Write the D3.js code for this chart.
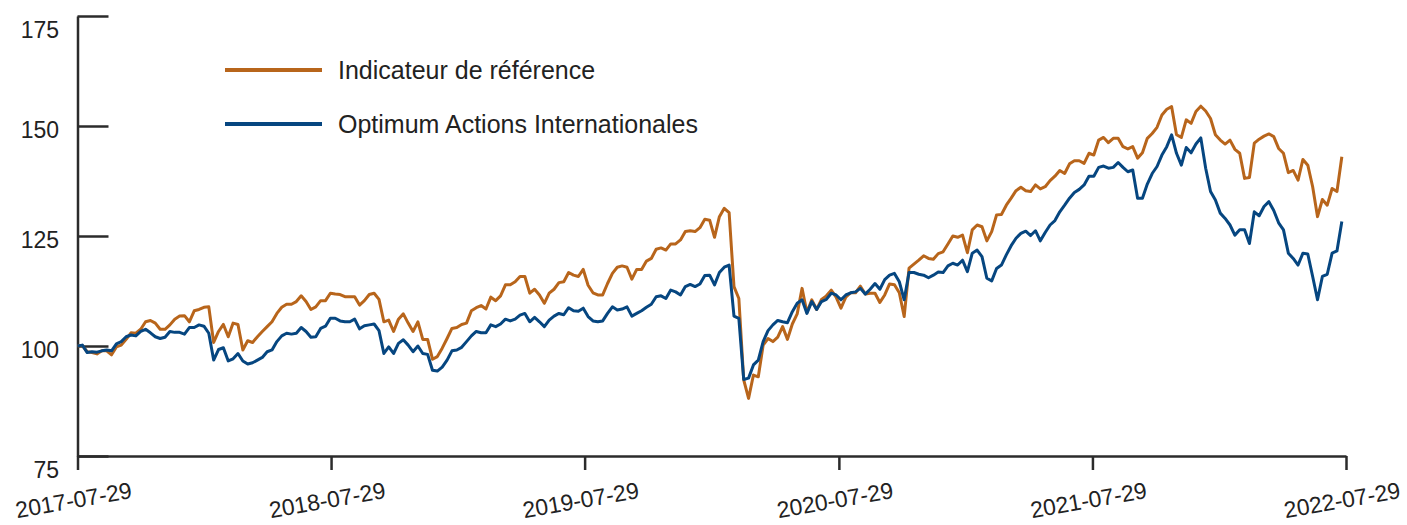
<!DOCTYPE html>
<html>
<head>
<meta charset="utf-8">
<script src="https://cdn.jsdelivr.net/npm/d3@7"></script>
<style>
  body { margin: 0; background: #fff; }
  text { font-family: "Liberation Sans", Arial, sans-serif; fill: #222; }
</style>
</head>
<body>
<div id="canvas"></div>
<script>
// weekly series, first point on 2017-07-29
const startDate = "2017-07-29";
const seriesNames = ["Indicateur de référence", "Optimum Actions Internationales"];
const yTicks = [75, 100, 125, 150, 175];
const xTicks = ["2017-07-29", "2018-07-29", "2019-07-29", "2020-07-29", "2021-07-29", "2022-07-29"];

const refValues = [
  100.0, 100.1, 98.7, 98.5, 98.2, 98.9, 98.9, 98.0, 99.8, 100.2,
  101.5, 103.0, 102.9, 103.8, 105.5, 105.8, 105.2, 103.8, 103.8, 104.8,
  106.1, 106.8, 106.9, 105.5, 108.0, 108.3, 108.8, 108.9, 100.8, 103.3,
  104.9, 102.1, 105.2, 104.9, 99.1, 101.2, 100.8, 102.1, 103.3, 104.4,
  105.5, 107.4, 108.8, 109.5, 109.5, 110.1, 111.4, 110.1, 108.3, 108.9,
  110.3, 110.3, 112.0, 111.8, 111.7, 111.2, 111.2, 111.2, 109.3, 110.3,
  111.7, 112.0, 110.6, 105.5, 105.9, 103.3, 106.1, 107.3, 105.2, 103.3,
  105.5, 101.5, 101.5, 97.0, 97.6, 99.5, 101.7, 104.0, 104.2, 104.9,
  105.2, 108.0, 108.7, 109.2, 108.4, 111.1, 110.3, 111.4, 113.9, 113.9,
  114.6, 115.8, 115.8, 112.0, 112.9, 111.6, 109.7, 112.0, 112.9, 114.4,
  114.6, 116.7, 116.1, 115.8, 117.4, 113.8, 112.1, 111.6, 111.6, 114.2,
  116.5, 117.9, 118.2, 117.9, 115.2, 117.4, 117.4, 119.3, 119.9, 122.0,
  122.3, 121.8, 123.2, 123.2, 124.1, 126.0, 126.2, 126.0, 126.9, 128.8,
  128.6, 124.7, 129.4, 131.3, 130.3, 113.5, 110.8, 92.3, 88.1, 93.4,
  93.0, 100.2, 101.7, 101.0, 102.0, 104.4, 101.5, 105.0, 107.3, 113.1,
  107.6, 110.5, 108.3, 110.6, 111.4, 112.7, 111.1, 108.6, 111.1, 112.1,
  112.1, 113.6, 111.8, 112.0, 112.0, 109.9, 111.6, 114.1, 113.9, 112.1,
  106.7, 117.7, 118.6, 119.5, 120.5, 119.9, 119.7, 121.0, 121.4, 123.2,
  125.0, 124.7, 125.2, 121.2, 126.4, 127.5, 127.1, 123.9, 126.0, 129.8,
  129.9, 132.0, 133.6, 135.3, 136.1, 135.3, 135.1, 136.6, 135.7, 136.2,
  137.6, 138.6, 139.9, 139.2, 141.4, 142.1, 142.1, 141.5, 143.8, 143.4,
  146.8, 147.4, 146.2, 147.2, 147.2, 145.3, 144.8, 145.3, 142.7, 143.9,
  147.2, 148.3, 149.7, 152.5, 153.8, 154.4, 148.0, 147.4, 151.4, 150.6,
  153.3, 154.5, 153.4, 151.7, 148.0, 146.8, 145.9, 146.8, 144.7, 143.8,
  138.1, 138.3, 146.1, 147.0, 147.7, 148.2, 147.6, 144.9, 143.8, 139.4,
  139.9, 137.7, 142.4, 141.1, 136.2, 129.4, 133.3, 132.0, 135.8, 135.1,
  143.0
];

const fundValues = [
  100.0, 100.2, 98.5, 98.7, 98.6, 98.9, 99.1, 98.9, 100.5, 101.0,
  102.1, 102.5, 102.3, 103.3, 103.8, 103.0, 102.1, 101.7, 102.0, 103.3,
  103.1, 103.1, 102.7, 104.2, 104.2, 104.8, 104.5, 102.9, 96.8, 99.2,
  99.6, 96.6, 97.1, 98.3, 96.6, 95.9, 96.2, 96.8, 97.4, 98.7,
  99.1, 101.0, 102.3, 102.9, 102.7, 102.9, 104.2, 103.3, 102.0, 102.1,
  104.0, 104.5, 106.3, 106.3, 105.7, 105.5, 105.5, 106.1, 103.9, 104.6,
  104.8, 105.0, 103.5, 98.3, 99.8, 98.3, 100.6, 101.4, 100.2, 98.7,
  100.0, 98.3, 98.1, 94.5, 94.3, 95.2, 96.8, 98.9, 99.1, 99.7,
  101.0, 102.3, 103.3, 103.0, 103.0, 104.8, 104.4, 105.0, 106.1, 105.7,
  106.1, 107.0, 107.4, 105.5, 106.5, 105.5, 104.4, 105.9, 106.8, 107.4,
  107.1, 108.7, 108.0, 107.9, 108.6, 106.7, 105.7, 105.5, 105.7, 107.4,
  108.9, 108.2, 108.4, 108.9, 106.8, 107.4, 108.0, 108.8, 109.5, 111.2,
  111.4, 110.8, 112.7, 112.3, 111.6, 113.5, 114.0, 113.5, 114.1, 116.0,
  116.1, 113.9, 116.7, 117.9, 118.4, 106.8, 106.3, 92.4, 92.7, 95.7,
  96.8, 101.0, 103.5, 104.8, 105.8, 105.5, 105.3, 107.8, 109.7, 110.5,
  107.4, 110.1, 108.3, 110.1, 110.6, 112.0, 111.6, 110.5, 111.6, 112.1,
  112.3, 113.1, 111.8, 112.9, 114.2, 112.9, 115.1, 116.1, 116.5, 114.6,
  110.5, 116.7, 116.7, 116.3, 116.1, 115.5, 116.1, 116.8, 116.7, 118.2,
  118.8, 118.4, 119.5, 116.9, 121.1, 121.8, 120.3, 115.4, 114.8, 117.6,
  118.4, 120.7, 122.8, 124.5, 125.6, 126.1, 125.1, 126.2, 123.9, 125.8,
  127.5, 128.5, 130.5, 132.0, 133.6, 134.9, 135.6, 136.6, 138.6, 138.6,
  140.6, 140.9, 140.4, 140.6, 141.7, 140.6, 139.6, 140.0, 133.6, 133.6,
  136.8, 139.2, 140.8, 143.4, 145.3, 148.0, 143.8, 141.1, 145.1, 143.9,
  145.9, 147.3, 140.4, 135.1, 133.2, 130.2, 129.0, 127.5, 125.2, 126.4,
  126.4, 123.3, 130.5, 129.6, 131.7, 132.8, 130.8, 128.0, 126.4, 121.1,
  119.9, 118.4, 121.1, 120.9, 115.8, 110.5, 115.8, 116.3, 121.1, 121.6,
  128.3
];

const colors = ["#b8651b", "#064680"];

const width = 1407;
const height = 525;
const margin = { top: 16, left: 77.5, bottom: 69, right: 61 };
const iwidth = width - margin.left - margin.right;
const iheight = height - margin.top - margin.bottom;

const parse = d3.utcParse("%Y-%m-%d");
const start = parse(startDate);
const dates = refValues.map((d, i) => d3.utcDay.offset(start, 7 * i));

const svg = d3.select("#canvas").append("svg")
  .attr("width", width)
  .attr("height", height);

const graph = svg.append("g").attr("transform", `translate(${margin.left},${margin.top})`);

const x = d3.scaleUtc()
  .domain([parse(xTicks[0]), parse(xTicks[xTicks.length - 1])])
  .range([0, iwidth]);

const y = d3.scaleLinear()
  .domain([75, 175])
  .range([iheight, 0]);

// axes
const yAxis = graph.append("g")
  .call(d3.axisLeft(y).tickValues(yTicks).tickSize(-31).tickSizeOuter(0).tickPadding(18.5));

yAxis.selectAll("text")
  .style("font-size", "23px")
  .attr("dy", d => (d === 75 || d === 175) ? "0.92em" : "0.5em");

const xAxis = graph.append("g")
  .attr("transform", `translate(0,${iheight})`)
  .call(d3.axisBottom(x).tickValues(xTicks.map(parse)).tickSize(14).tickSizeOuter(0)
    .tickFormat(d3.utcFormat("%Y-%m-%d")));

xAxis.selectAll("text")
  .style("font-size", "23px")
  .attr("y", 0)
  .attr("dy", 0)
  .attr("text-anchor", "middle")
  .attr("transform", "translate(-3,52) rotate(-10)");

graph.selectAll(".domain, .tick line")
  .attr("stroke", "#2b2b2b")
  .attr("stroke-width", 2.5);

// lines
const line = d3.line()
  .x((d, i) => x(dates[i]))
  .y(d => y(d));

[refValues, fundValues].forEach((vals, k) => {
  graph.append("path")
    .datum(vals)
    .attr("fill", "none")
    .attr("stroke", colors[k])
    .attr("stroke-width", 3)
    .attr("stroke-linejoin", "round")
    .attr("d", line);
});

// legend
const legend = svg.append("g");
seriesNames.forEach((name, k) => {
  const ly = 70 + k * 54;
  legend.append("line")
    .attr("x1", 225).attr("x2", 322)
    .attr("y1", ly).attr("y2", ly)
    .attr("stroke", colors[k])
    .attr("stroke-width", 4);
  legend.append("text")
    .attr("x", 338)
    .attr("y", ly + 9)
    .style("font-size", "25px")
    .text(name);
});
</script>
</body>
</html>
